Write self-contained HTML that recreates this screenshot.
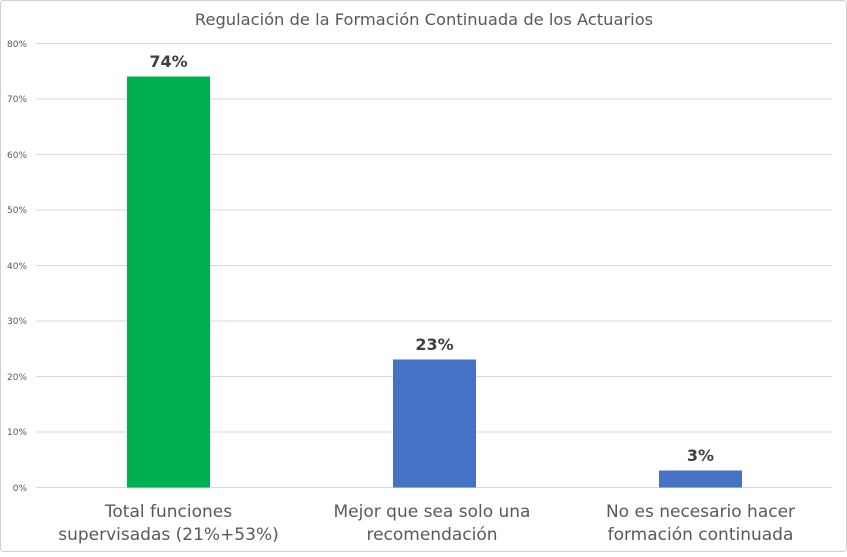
<!DOCTYPE html>
<html><head><meta charset="utf-8"><style>
body{margin:0;background:#fff;}
</style></head><body>
<svg width="847" height="552" viewBox="0 0 847 552" xmlns="http://www.w3.org/2000/svg" font-family="DejaVu Sans, Liberation Sans, sans-serif">
<rect x="0.5" y="0.5" width="846" height="551" rx="3" fill="#fff" stroke="#d0d0d0"/>
<text x="424" y="25" text-anchor="middle" font-size="16.3" fill="#595959">Regulación de la Formación Continuada de los Actuarios</text>
<g stroke="#d9d9d9" stroke-width="1">
<line x1="36" x2="832" y1="43.5" y2="43.5"/>
<line x1="36" x2="832" y1="99" y2="99"/>
<line x1="36" x2="832" y1="154.5" y2="154.5"/>
<line x1="36" x2="832" y1="210" y2="210"/>
<line x1="36" x2="832" y1="265.5" y2="265.5"/>
<line x1="36" x2="832" y1="321" y2="321"/>
<line x1="36" x2="832" y1="376.5" y2="376.5"/>
<line x1="36" x2="832" y1="432" y2="432"/>
<line x1="36" x2="832" y1="487.5" y2="487.5"/>
</g>
<g font-size="9" fill="#595959" text-anchor="end">
<text x="27" y="47">80%</text>
<text x="27" y="102">70%</text>
<text x="27" y="158">60%</text>
<text x="27" y="213">50%</text>
<text x="27" y="269">40%</text>
<text x="27" y="324">30%</text>
<text x="27" y="380">20%</text>
<text x="27" y="435">10%</text>
<text x="27" y="491">0%</text>
</g>
<rect x="127" y="76.5" width="83" height="411" fill="#00b050"/>
<rect x="393" y="359.5" width="83" height="128" fill="#4472c4"/>
<rect x="659" y="470.5" width="83" height="17" fill="#4472c4"/>
<g font-size="16" font-weight="bold" fill="#404040" text-anchor="middle">
<text x="168.5" y="67">74%</text>
<text x="434.5" y="350">23%</text>
<text x="700.5" y="461">3%</text>
</g>
<g font-size="17" fill="#595959" text-anchor="middle">
<text x="168.5" y="517">Total funciones</text>
<text x="168.5" y="540">supervisadas (21%+53%)</text>
<text x="432" y="517">Mejor que sea solo una</text>
<text x="432" y="540">recomendación</text>
<text x="700.5" y="517">No es necesario hacer</text>
<text x="700.5" y="540">formación continuada</text>
</g>
</svg>
</body></html>
